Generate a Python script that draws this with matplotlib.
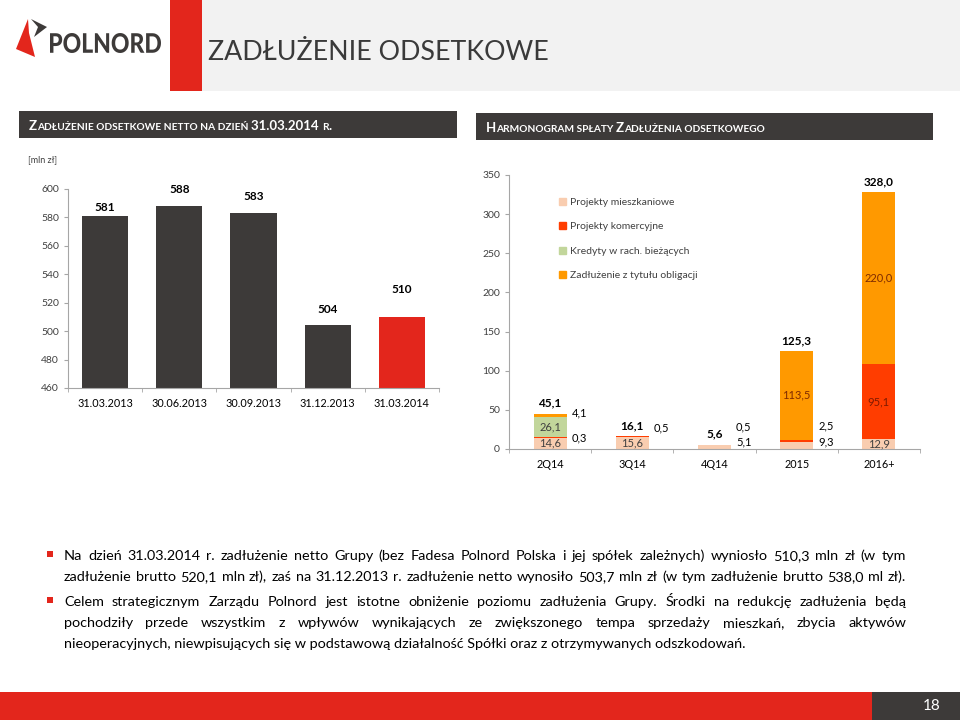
import matplotlib
matplotlib.use("Agg")
import matplotlib.pyplot as plt
from matplotlib.patches import Rectangle, Polygon, Patch, PathPatch
from matplotlib.offsetbox import TextArea, HPacker, AnnotationBbox
from matplotlib.textpath import TextPath
from matplotlib.font_manager import FontProperties
from matplotlib.transforms import Affine2D

plt.rcParams['font.family'] = 'Lato'

# --- data -------------------------------------------------------------
net_dates = ['31.03.2013', '30.06.2013', '30.09.2013', '31.12.2013', '31.03.2014']
net_debt = [581, 588, 583, 504, 510]

periods = ['2Q14', '3Q14', '4Q14', '2015', '2016+']
mieszkaniowe = [14.6, 15.6, 5.1, 9.3, 12.9]
komercyjne = [0.3, 0.5, 0.5, 2.5, 95.1]
kredyty = [26.1, 0, 0, 0, 0]
obligacje = [4.1, 0, 0, 113.5, 220.0]
totals = [45.1, 16.1, 5.6, 125.3, 328.0]

series_names = ['Projekty mieszkaniowe', 'Projekty komercyjne',
                'Kredyty w rach. bieżących', 'Zadłużenie z tytułu obligacji']

para1 = ["Na dzień 31.03.2014 r. zadłużenie netto Grupy (bez Fadesa Polnord Polska i jej spółek zależnych) wyniosło 510,3 mln zł (w tym",
         "zadłużenie brutto 520,1 mln zł), zaś na 31.12.2013 r. zadłużenie netto wynosiło 503,7 mln zł (w tym zadłużenie brutto 538,0 ml zł)."]
para2 = ["Celem strategicznym Zarządu Polnord jest istotne obniżenie poziomu zadłużenia Grupy. Środki na redukcję zadłużenia będą",
         "pochodziły przede wszystkim z wpływów wynikających ze zwiększonego tempa sprzedaży mieszkań, zbycia aktywów",
         "nieoperacyjnych, niewpisujących się w podstawową działalność Spółki oraz z otrzymywanych odszkodowań."]

# --- colours ----------------------------------------------------------
DARK = '#3d3a39'
RED = '#e3261c'
C_MIESZK = '#f9cdb0'
C_KOM = '#ff3d00'
C_KRED = '#c2d69b'
C_OBLIG = '#ff9900'
AXC = '#a6a6a6'
TXT = '#404040'

W, H = 960, 720
fig = plt.figure(figsize=(9.6, 7.2), dpi=100)


def fx(x):
    return x / W


def fy(y):
    return 1 - y / H


def rect(x0, y0, x1, y1, color):
    fig.add_artist(Rectangle((fx(x0), fy(y1)), (x1 - x0) / W, (y1 - y0) / H,
                             transform=fig.transFigure, color=color, lw=0))


def poly(pts, color):
    fig.add_artist(Polygon([(fx(a), fy(b)) for a, b in pts], closed=True,
                           transform=fig.transFigure, color=color, lw=0))


def small_caps(x, y, s, big, small):
    runs = []
    for ch in s:
        low = ch.islower()
        if ch == ' ' and runs:
            low = runs[-1][0]
        if runs and runs[-1][0] == low:
            runs[-1][1] += ch
        else:
            runs.append([low, ch])
    kids = [TextArea(r.upper(), textprops=dict(size=small if low else big,
                                               color='white', weight='bold'))
            for low, r in runs]
    box = HPacker(children=kids, align='baseline', pad=0, sep=0)
    ab = AnnotationBbox(box, (fx(x), fy(y)), xycoords='figure fraction',
                        frameon=False, box_alignment=(0, 0.5), pad=0)
    fig.add_artist(ab)


# --- header -----------------------------------------------------------
rect(202, 0, 960, 91, '#f2f2f2')
rect(170, 0, 202, 91, RED)
poly([(28, 19), (16, 49), (35, 57), (29, 33)], RED)
poly([(31, 19), (47, 27), (34, 37), (38, 27)], DARK)

# condensed bold logo word, fitted into its box (x 50..161, caps 33..53)
tp = TextPath((0, 0), 'POLNORD', size=1, prop=FontProperties(family='Lato', weight='black'))
ext = tp.get_extents()
sx = (161 - 50) / ext.width
sy = (53 - 33) / ext.height
logo_tf = (Affine2D().translate(-ext.x0, -ext.y0).scale(sx, sy)
           .translate(50, H - 53) + fig.dpi_scale_trans.inverted()
           + Affine2D().scale(1 / 9.6, 1 / 7.2) + fig.transFigure)
fig.add_artist(PathPatch(tp, transform=logo_tf, color=DARK, lw=0))

fig.text(fx(208), fy(52), 'ZADŁUŻENIE ODSETKOWE', size=19.3, weight='normal',
         color='#3a3a3a', va='center', ha='left')

rect(19, 111, 457, 138, DARK)
rect(476, 113, 933, 140, DARK)
small_caps(29, 126, 'Zadłużenie odsetkowe netto na dzień 31.03.2014 r.', 9.5, 7.3)
small_caps(486, 128, 'Harmonogram spłaty Zadłużenia odsetkowego', 9.5, 7.3)

# --- left chart -------------------------------------------------------
ax1 = fig.add_axes([fx(68), fy(388), (439 - 68) / W, (388 - 189) / H])
x1 = range(len(net_dates))
colors1 = [DARK] * (len(net_debt) - 1) + [RED]
ax1.bar(x1, net_debt, width=0.62, color=colors1)
ax1.set_ylim(460, 600)
ax1.set_xlim(-0.5, len(net_dates) - 0.5)
ax1.set_yticks(range(460, 601, 20))
ax1.set_xticks(list(x1))
ax1.set_xticklabels(net_dates)
label_lift = [1, 9, 9, 8, 20]
for i, v in enumerate(net_debt):
    ax1.annotate(str(v), (i, v), xytext=(0, 2 + label_lift[i]),
                 textcoords='offset pixels', ha='center', va='bottom',
                 size=8.5, weight='bold', color='black', annotation_clip=False)
fig.text(fx(28), fy(160), '[mln zł]', size=6.5, color=TXT, va='center')

# --- right chart ------------------------------------------------------
ax2 = fig.add_axes([fx(509), fy(449), (920 - 509) / W, (449 - 175) / H])
x2 = list(range(len(periods)))
bw = 0.4
stack = [mieszkaniowe, komercyjne, kredyty, obligacje]
cols = [C_MIESZK, C_KOM, C_KRED, C_OBLIG]
bottom = [0.0] * len(periods)
centers = []
for vals, c in zip(stack, cols):
    ax2.bar(x2, vals, width=bw, bottom=bottom, color=c)
    centers.append([b + v / 2 for b, v in zip(bottom, vals)])
    bottom = [b + v for b, v in zip(bottom, vals)]
ax2.set_ylim(0, 350)
ax2.set_xlim(-0.5, len(periods) - 0.5)
ax2.set_yticks(range(0, 351, 50))
ax2.set_xticks(x2)
ax2.set_xticklabels(periods)

# labels inside bars: (series index, period index, text colour)
inside = [(0, 0, TXT), (2, 0, TXT), (0, 1, TXT), (3, 3, '#7f2b00'),
          (3, 4, '#7f2b00'), (1, 4, '#7f1a00'), (0, 4, TXT)]
for s, i, tc in inside:
    ax2.text(i, centers[s][i], f'{stack[s][i]:.1f}'.replace('.', ','),
             ha='center', va='center', size=8, color=tc)
# labels beside bars: (series index, period index, lift in pixels)
beside = [(3, 0, 2), (1, 0, 0), (1, 1, 9), (1, 2, 18), (0, 2, 5), (1, 3, 15), (0, 3, 3)]
for s, i, lift in beside:
    ax2.annotate(f'{stack[s][i]:.1f}'.replace('.', ','), (i + bw / 2, centers[s][i]),
                 xytext=(5, lift), textcoords='offset pixels', ha='left',
                 va='center', size=8, color='black')
for i, t in enumerate(totals):
    ax2.annotate(f'{t:.1f}'.replace('.', ','), (i, t), xytext=(0, 5),
                 textcoords='offset pixels', ha='center', va='bottom',
                 size=8.5, weight='bold', color='black', annotation_clip=False)

handles = [Patch(color=c) for c in cols]
ax2.legend(handles, series_names, loc='upper left', bbox_to_anchor=(0.1, 0.95),
           frameon=False, fontsize=7.5, handlelength=0.65, handleheight=0.65,
           handletextpad=0.4, labelspacing=1.45, labelcolor=TXT)

for ax in (ax1, ax2):
    for side in ('top', 'right'):
        ax.spines[side].set_visible(False)
    for side in ('left', 'bottom'):
        ax.spines[side].set_color(AXC)
    ax.tick_params(axis='y', length=3, color=AXC, labelsize=7.5, labelcolor=TXT, pad=3.5)
    ax.tick_params(axis='x', which='major', length=0, labelsize=7.8,
                   labelcolor='black', pad=7)
    n = len(ax.get_xticks())
    ax.set_xticks([k - 0.5 for k in range(n + 1)], minor=True)
    ax.tick_params(axis='x', which='minor', length=3, color=AXC)

# --- bullet text ------------------------------------------------------
renderer = fig.canvas.get_renderer()
TX0, TX1 = 64, 906
FS = 12.0


def width_px(s, size):
    t = fig.text(0, 0, s, size=size)
    w = t.get_window_extent(renderer).width
    t.remove()
    return w


longest = max(para1 + para2[:2], key=lambda s: width_px(s, 10))
while width_px(longest, FS) > (TX1 - TX0) * 0.985:
    FS -= 0.1


def put_line(line, y, justify):
    base = fy(y + 4)
    if not justify:
        fig.text(fx(TX0), base, line, size=FS, color='black', va='baseline')
        return
    words = line.split(' ')
    ws = [width_px(w, FS) for w in words]
    gap = (TX1 - TX0 - sum(ws)) / (len(words) - 1)
    x = TX0
    for w, wd in zip(words, ws):
        fig.text(fx(x), base, w, size=FS, color='black', va='baseline')
        x += wd + gap


rows1 = [556, 577]
rows2 = [602, 623, 644]
for k, line in enumerate(para1):
    put_line(line, rows1[k], True)
for k, line in enumerate(para2):
    put_line(line, rows2[k], k < len(para2) - 1)
rect(47, 551, 53, 557, RED)
rect(47, 597, 53, 603, RED)

# --- footer -----------------------------------------------------------
rect(0, 692, 872, 720, RED)
rect(872, 692, 960, 720, DARK)
fig.text(fx(932), fy(706), '18', size=11, color='white', ha='center', va='center')

fig.savefig('out.png', dpi=100)
